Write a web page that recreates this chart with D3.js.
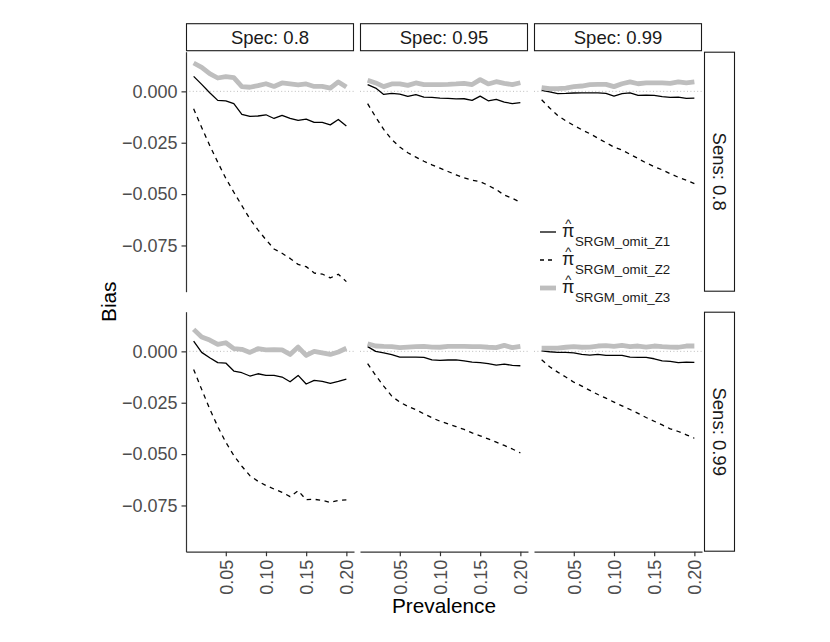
<!DOCTYPE html>
<html>
<head>
<meta charset="utf-8">
<script src="https://cdn.jsdelivr.net/npm/d3@7"></script>
<style>
    body { margin: 0; background: #fff; }
    svg text { font-family: "Liberation Sans", Arial, Helvetica, sans-serif; }
</style>
</head>
<body>
<div id="chart"></div>
<script>
// prevalence values on the x axis
const prevalence = [0.01, 0.02, 0.03, 0.04, 0.05, 0.06, 0.07, 0.08, 0.09, 0.10,
    0.11, 0.12, 0.13, 0.14, 0.15, 0.16, 0.17, 0.18, 0.19, 0.20];
const sensLevels = [0.8, 0.99];
const specLevels = [0.8, 0.95, 0.99];
const seriesNames = ["SRGM_omit_Z1", "SRGM_omit_Z2", "SRGM_omit_Z3"];
const xTicks = [0.05, 0.10, 0.15, 0.20];
const yTicks = [0, -0.025, -0.05, -0.075];

// Sens 0.8
const z1_se80_sp80 = [0.0073, 0.0034, -0.0007, -0.0044, -0.0046, -0.0060, -0.0112, -0.0122, -0.0120, -0.0114, -0.0132, -0.0117, -0.0132, -0.0141, -0.0135, -0.0151, -0.0151, -0.0163, -0.0137, -0.0169];
const z2_se80_sp80 = [-0.0085, -0.0176, -0.0263, -0.0345, -0.0423, -0.0491, -0.0556, -0.0621, -0.0674, -0.0722, -0.0767, -0.0788, -0.0813, -0.0842, -0.0853, -0.0884, -0.0889, -0.0908, -0.0890, -0.0926];
const z3_se80_sp80 = [0.0138, 0.0117, 0.0086, 0.0065, 0.0072, 0.0067, 0.0023, 0.0020, 0.0028, 0.0037, 0.0024, 0.0041, 0.0036, 0.0031, 0.0036, 0.0024, 0.0024, 0.0016, 0.0046, 0.0021];

const z1_se80_sp95 = [0.0033, 0.0016, -0.0015, -0.0010, -0.0013, -0.0024, -0.0016, -0.0028, -0.0029, -0.0033, -0.0034, -0.0037, -0.0036, -0.0044, -0.0023, -0.0046, -0.0039, -0.0052, -0.0060, -0.0055];
const z2_se80_sp95 = [-0.0060, -0.0125, -0.0185, -0.0234, -0.0271, -0.0299, -0.0320, -0.0340, -0.0358, -0.0374, -0.0390, -0.0406, -0.0421, -0.0432, -0.0439, -0.0458, -0.0478, -0.0505, -0.0520, -0.0540];
const z3_se80_sp95 = [0.0054, 0.0041, 0.0023, 0.0036, 0.0036, 0.0029, 0.0041, 0.0033, 0.0033, 0.0033, 0.0034, 0.0036, 0.0039, 0.0033, 0.0057, 0.0036, 0.0047, 0.0039, 0.0033, 0.0042];

const z1_se80_sp99 = [0.0005, -0.0002, -0.0011, -0.0010, -0.0008, -0.0007, -0.0007, -0.0007, -0.0010, -0.0023, -0.0011, -0.0007, -0.0020, -0.0018, -0.0020, -0.0026, -0.0029, -0.0028, -0.0034, -0.0033];
const z2_se80_sp99 = [-0.0041, -0.0081, -0.0117, -0.0143, -0.0166, -0.0187, -0.0206, -0.0228, -0.0250, -0.0271, -0.0286, -0.0306, -0.0327, -0.0348, -0.0366, -0.0382, -0.0401, -0.0418, -0.0432, -0.0449];
const z3_se80_sp99 = [0.0018, 0.0013, 0.0013, 0.0016, 0.0023, 0.0026, 0.0033, 0.0034, 0.0034, 0.0023, 0.0037, 0.0046, 0.0037, 0.0041, 0.0041, 0.0041, 0.0039, 0.0046, 0.0041, 0.0046];

// Sens 0.99
const z1_se99_sp80 = [0.0050, -0.0005, -0.0031, -0.0055, -0.0057, -0.0096, -0.0104, -0.0120, -0.0109, -0.0117, -0.0117, -0.0125, -0.0148, -0.0117, -0.0159, -0.0141, -0.0146, -0.0156, -0.0146, -0.0135];
const z2_se99_sp80 = [-0.0088, -0.0185, -0.0280, -0.0366, -0.0442, -0.0507, -0.0559, -0.0605, -0.0632, -0.0653, -0.0670, -0.0686, -0.0707, -0.0678, -0.0722, -0.0720, -0.0725, -0.0735, -0.0725, -0.0723];
const z3_se99_sp80 = [0.0107, 0.0070, 0.0055, 0.0034, 0.0042, 0.0013, 0.0010, -0.0005, 0.0013, 0.0007, 0.0008, 0.0007, -0.0015, 0.0021, -0.0020, 0.0000, -0.0007, -0.0015, -0.0003, 0.0015];

const z1_se99_sp95 = [0.0023, 0.0000, -0.0007, -0.0016, -0.0028, -0.0028, -0.0028, -0.0029, -0.0041, -0.0044, -0.0042, -0.0041, -0.0046, -0.0052, -0.0055, -0.0060, -0.0067, -0.0062, -0.0068, -0.0070];
const z2_se99_sp95 = [-0.0060, -0.0117, -0.0169, -0.0218, -0.0247, -0.0268, -0.0284, -0.0304, -0.0323, -0.0340, -0.0353, -0.0366, -0.0380, -0.0397, -0.0411, -0.0426, -0.0442, -0.0458, -0.0475, -0.0494];
const z3_se99_sp95 = [0.0037, 0.0026, 0.0024, 0.0023, 0.0018, 0.0021, 0.0023, 0.0024, 0.0021, 0.0020, 0.0024, 0.0024, 0.0024, 0.0023, 0.0023, 0.0020, 0.0018, 0.0029, 0.0018, 0.0024];

const z1_se99_sp99 = [0.0002, -0.0002, -0.0005, -0.0005, -0.0007, -0.0015, -0.0018, -0.0015, -0.0020, -0.0020, -0.0020, -0.0028, -0.0029, -0.0029, -0.0036, -0.0046, -0.0049, -0.0055, -0.0052, -0.0054];
const z2_se99_sp99 = [-0.0041, -0.0075, -0.0101, -0.0125, -0.0150, -0.0169, -0.0190, -0.0210, -0.0228, -0.0247, -0.0265, -0.0283, -0.0302, -0.0322, -0.0340, -0.0358, -0.0377, -0.0390, -0.0406, -0.0423];
const z3_se99_sp99 = [0.0016, 0.0016, 0.0016, 0.0020, 0.0023, 0.0020, 0.0021, 0.0026, 0.0028, 0.0024, 0.0029, 0.0023, 0.0026, 0.0021, 0.0026, 0.0023, 0.0021, 0.0020, 0.0026, 0.0026];

// panels[row][col] -> [Z1, Z2, Z3]
const panels = [
    [[z1_se80_sp80, z2_se80_sp80, z3_se80_sp80],
     [z1_se80_sp95, z2_se80_sp95, z3_se80_sp95],
     [z1_se80_sp99, z2_se80_sp99, z3_se80_sp99]],
    [[z1_se99_sp80, z2_se99_sp80, z3_se99_sp80],
     [z1_se99_sp95, z2_se99_sp95, z3_se99_sp95],
     [z1_se99_sp99, z2_se99_sp99, z3_se99_sp99]]
];

// one style per series (solid, dashed, thick grey)
const lineStyles = [
    { stroke: "#000", width: 1.3, dash: null },
    { stroke: "#000", width: 1.3, dash: "4.5,4.5" },
    { stroke: "#bebebe", width: 4.8, dash: null }
];

const width = 830,
    height = 642,
    panelW = 168,
    panelH = 240,
    colX = [186, 360, 534],
    rowY = [51.7, 311.7],
    stripH = 27,
    stripW = 30,
    axisColor = "#333",
    tickColor = "#4d4d4d";

const svg = d3.select("#chart")
    .append("svg")
    .attr("width", width)
    .attr("height", height);

let x = d3.scaleLinear()
    .domain([0.0005, 0.2095])
    .range([0, panelW]);
let y = d3.scaleLinear()
    .domain([-0.0975, 0.0193])
    .range([panelH, 0]);

let line = d3.line()
    .x(function (d, i) { return x(prevalence[i]); })
    .y(function (d) { return y(d); });

function styleAxis(g) {
    g.select(".domain").attr("stroke", axisColor).attr("stroke-width", 1.2);
    g.selectAll(".tick line").attr("stroke", axisColor).attr("stroke-width", 1.2);
    g.selectAll(".tick text")
        .attr("fill", tickColor)
        .style("font-size", "18px");
}

sensLevels.forEach(function (sens, r) {
    specLevels.forEach(function (spec, c) {
        let g = svg.append("g")
            .attr("transform", "translate(" + colX[c] + "," + rowY[r] + ")");

        // dotted zero reference
        g.append("line")
            .attr("x1", 0)
            .attr("x2", panelW)
            .attr("y1", y(0))
            .attr("y2", y(0))
            .attr("stroke", "#bdbdbd")
            .attr("stroke-width", 1)
            .attr("stroke-dasharray", "1,2.4");

        g.selectAll("path.series")
            .data(panels[r][c])
            .enter()
            .append("path")
            .attr("class", "series")
            .attr("d", function (d) { return line(d); })
            .attr("fill", "none")
            .attr("stroke", function (d, i) { return lineStyles[i].stroke; })
            .attr("stroke-width", function (d, i) { return lineStyles[i].width; })
            .attr("stroke-dasharray", function (d, i) { return lineStyles[i].dash; })
            .attr("stroke-linejoin", "round");

        // y axis only on first column
        if (c === 0) {
            g.append("g")
                .call(d3.axisLeft(y)
                    .tickValues(yTicks)
                    .tickFormat(d3.format(".3f"))
                    .tickSize(4.5)
                    .tickSizeOuter(0)
                    .tickPadding(4))
                .call(styleAxis);
        }

        // x axis only on bottom row
        if (r === sensLevels.length - 1) {
            let xa = g.append("g")
                .attr("transform", "translate(0," + panelH + ")")
                .call(d3.axisBottom(x)
                    .tickValues(xTicks)
                    .tickFormat(d3.format(".2f"))
                    .tickSize(4.5)
                    .tickSizeOuter(0))
                .call(styleAxis);
            xa.selectAll(".tick text")
                .attr("transform", "rotate(-90)")
                .attr("x", -8)
                .attr("y", 0)
                .attr("dy", "0.35em")
                .attr("text-anchor", "end");
        }

        // top strips
        if (r === 0) {
            svg.append("rect")
                .attr("x", colX[c] + 0.5)
                .attr("y", rowY[0] - stripH - 1)
                .attr("width", panelW - 1)
                .attr("height", stripH)
                .attr("fill", "#fff")
                .attr("stroke", "#1a1a1a")
                .attr("stroke-width", 1.1);
            svg.append("text")
                .attr("x", colX[c] + panelW / 2)
                .attr("y", rowY[0] - 1 - stripH / 2)
                .attr("dy", "0.35em")
                .attr("text-anchor", "middle")
                .style("font-size", "18.5px")
                .attr("fill", "#1a1a1a")
                .text("Spec: " + spec);
        }
    });

    // right strip
    let sx = colX[2] + panelW + 2;
    svg.append("rect")
        .attr("x", sx + 0.5)
        .attr("y", rowY[r] + 0.5)
        .attr("width", stripW)
        .attr("height", panelH - 1)
        .attr("fill", "#fff")
        .attr("stroke", "#1a1a1a")
        .attr("stroke-width", 1.1);
    svg.append("text")
        .attr("transform", "translate(" + (sx + 0.5 + stripW / 2) + "," + (rowY[r] + panelH / 2) + ") rotate(90)")
        .attr("dy", "0.35em")
        .attr("text-anchor", "middle")
        .style("font-size", "18.5px")
        .attr("fill", "#1a1a1a")
        .text("Sens: " + sens);
});

// axis titles
svg.append("text")
    .attr("x", (colX[0] + colX[2] + panelW) / 2)
    .attr("y", 613)
    .attr("text-anchor", "middle")
    .style("font-size", "20.8px")
    .attr("fill", "#000")
    .text("Prevalence");

svg.append("text")
    .attr("transform", "translate(116," + (rowY[0] + (rowY[1] + panelH - rowY[0]) / 2) + ") rotate(-90)")
    .attr("text-anchor", "middle")
    .style("font-size", "20.8px")
    .attr("fill", "#000")
    .text("Bias");

// legend, placed inside the plot area
let legend = svg.append("g")
    .attr("transform", "translate(540,232)");

let item = legend.selectAll("g.item")
    .data(seriesNames)
    .enter()
    .append("g")
    .attr("class", "item")
    .attr("transform", function (d, i) { return "translate(0," + (i * 28) + ")"; });

item.append("line")
    .attr("x1", 0)
    .attr("x2", 16)
    .attr("y1", 0)
    .attr("y2", 0)
    .attr("stroke", function (d, i) { return lineStyles[i].stroke; })
    .attr("stroke-width", function (d, i) { return lineStyles[i].width; })
    .attr("stroke-dasharray", function (d, i) { return lineStyles[i].dash ? "4,4" : null; });

// pi-hat with subscript, kept in one text element:
// pi, then a caret pulled back over it, then the subscript
let label = item.append("text")
    .attr("x", 22)
    .attr("y", 4.5)
    .attr("fill", "#1a1a1a");

let piSpan = label.append("tspan")
    .style("font-size", "18px")
    .text("\u03C0");
let hatSpan = label.append("tspan")
    .style("font-size", "13px")
    .text("^");
let subSpan = label.append("tspan")
    .style("font-size", "13.3px")
    .text(function (d) { return d; });

let piW = piSpan.node().getComputedTextLength(),
    hatW = hatSpan.node().getComputedTextLength();
hatSpan
    .attr("dx", -(piW + hatW) / 2)
    .attr("dy", -9);
subSpan
    .attr("dx", (piW - hatW) / 2 + 0.5)
    .attr("dy", 18.5);
</script>
</body>
</html>
